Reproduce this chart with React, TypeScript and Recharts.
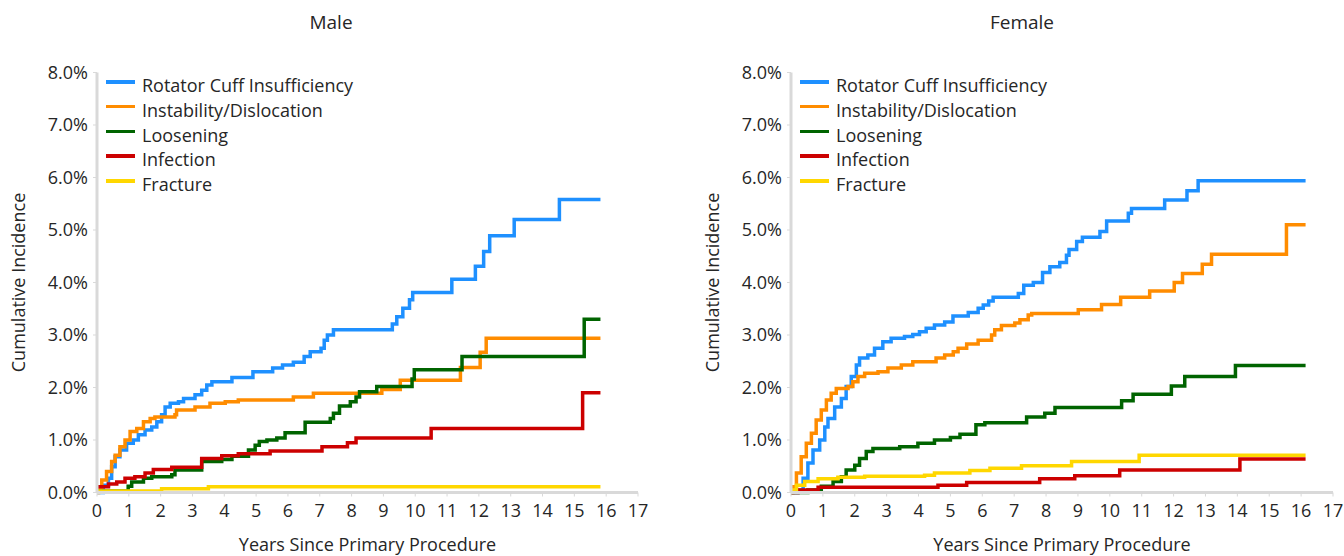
import React from 'react';
import { LineChart, Line, XAxis, YAxis, Legend } from 'recharts';

// ---------- Data (years since procedure, cumulative incidence %) ----------
const seriesNames = ['Rotator Cuff Insufficiency', 'Instability/Dislocation', 'Loosening', 'Infection', 'Fracture'];
const seriesColors = ['#1E90FF', '#FF8C00', '#006400', '#CC0000', '#FFD700'];

const xTicks = [0, 1, 2, 3, 4, 5, 6, 7, 8, 9, 10, 11, 12, 13, 14, 15, 16, 17];
const yTicks = [0, 1, 2, 3, 4, 5, 6, 7, 8];

const maleRotatorCuff: [number, number][] = [
  [0, 0], [0.2, 0.14], [0.36, 0.27], [0.46, 0.49], [0.57, 0.68], [0.72, 0.81], [0.93, 0.94],
  [1.14, 1.0], [1.3, 1.1], [1.51, 1.19], [1.72, 1.25], [1.88, 1.35], [2.03, 1.48], [2.14, 1.63],
  [2.3, 1.7], [2.56, 1.73], [2.72, 1.79], [3.08, 1.86], [3.29, 1.95], [3.45, 2.05], [3.61, 2.11],
  [4.24, 2.19], [4.9, 2.3], [5.52, 2.37], [5.83, 2.43], [6.17, 2.48], [6.51, 2.59], [6.7, 2.68],
  [7.04, 2.75], [7.14, 2.9], [7.24, 3.0], [7.43, 3.1], [9.28, 3.21], [9.42, 3.35], [9.61, 3.51],
  [9.82, 3.67], [9.92, 3.81], [11.15, 4.06], [11.89, 4.31], [12.15, 4.59], [12.34, 4.89],
  [13.11, 5.2], [14.53, 5.58], [15.82, 5.58],
];
const maleInstability: [number, number][] = [
  [0, 0], [0.05, 0.1], [0.15, 0.24], [0.3, 0.4], [0.46, 0.59], [0.57, 0.71], [0.72, 0.87],
  [0.88, 1.0], [1.04, 1.16], [1.25, 1.22], [1.46, 1.35], [1.67, 1.41], [1.82, 1.44], [2.45, 1.48],
  [2.5, 1.57], [3.08, 1.63], [3.55, 1.7], [4.03, 1.73], [4.44, 1.76], [6.17, 1.82], [6.8, 1.89],
  [8.95, 1.96], [9.53, 2.14], [11.42, 2.38], [12.04, 2.67], [12.23, 2.94], [15.82, 2.94],
];
const maleLoosening: [number, number][] = [
  [0, 0.03], [0.98, 0.12], [1.09, 0.2], [1.46, 0.27], [1.72, 0.3], [2.35, 0.34], [2.45, 0.43],
  [3.29, 0.59], [3.92, 0.63], [4.24, 0.69], [4.76, 0.81], [4.97, 0.9], [5.1, 0.97], [5.34, 1.0],
  [5.65, 1.04], [5.91, 1.14], [6.54, 1.34], [7.33, 1.41], [7.43, 1.51], [7.62, 1.65], [7.96, 1.73],
  [8.14, 1.82], [8.25, 1.92], [8.79, 2.02], [9.9, 2.16], [9.97, 2.34], [11.47, 2.59],
  [15.31, 3.3], [15.82, 3.3],
];
const maleInfection: [number, number][] = [
  [0, 0.11], [0.36, 0.16], [0.62, 0.2], [0.88, 0.27], [1.19, 0.3], [1.51, 0.37], [1.77, 0.44],
  [2.35, 0.48], [3.29, 0.65], [3.92, 0.7], [4.44, 0.74], [5.44, 0.79], [7.07, 0.87], [7.87, 0.95],
  [8.14, 1.04], [10.5, 1.22], [15.26, 1.9], [15.82, 1.9],
];
const maleFracture: [number, number][] = [
  [0, 0.03], [2.03, 0.07], [3.5, 0.11], [15.82, 0.11],
];

const femaleRotatorCuff: [number, number][] = [
  [0, 0], [0.22, 0.05], [0.38, 0.27], [0.53, 0.56], [0.69, 0.81], [0.9, 1.0], [1.06, 1.25],
  [1.16, 1.41], [1.37, 1.63], [1.58, 1.79], [1.73, 2.02], [1.89, 2.21], [2.05, 2.43], [2.15, 2.56],
  [2.41, 2.62], [2.62, 2.75], [2.88, 2.87], [3.14, 2.94], [3.56, 2.97], [3.82, 3.01], [4.03, 3.06],
  [4.24, 3.13], [4.5, 3.19], [4.82, 3.25], [5.08, 3.36], [5.56, 3.43], [5.87, 3.51], [6.03, 3.57],
  [6.2, 3.65], [6.34, 3.72], [7.13, 3.79], [7.3, 3.95], [7.6, 4.0], [7.89, 4.19], [8.12, 4.3],
  [8.43, 4.38], [8.64, 4.52], [8.72, 4.63], [8.96, 4.78], [9.14, 4.86], [9.69, 4.97], [9.9, 5.17],
  [10.58, 5.32], [10.68, 5.41], [11.72, 5.57], [12.42, 5.75], [12.77, 5.94], [16.14, 5.94],
];
const femaleInstability: [number, number][] = [
  [0, 0], [0.06, 0.11], [0.17, 0.37], [0.32, 0.68], [0.48, 0.94], [0.64, 1.13], [0.79, 1.38],
  [0.95, 1.57], [1.11, 1.76], [1.26, 1.89], [1.42, 1.98], [1.79, 2.02], [1.94, 2.11], [2.1, 2.21],
  [2.31, 2.27], [2.73, 2.3], [3.04, 2.37], [3.46, 2.43], [3.82, 2.49], [4.55, 2.56], [4.82, 2.62],
  [5.09, 2.68], [5.24, 2.75], [5.51, 2.83], [5.87, 2.9], [6.29, 3.0], [6.39, 3.1], [6.6, 3.18],
  [7.02, 3.23], [7.18, 3.29], [7.44, 3.38], [7.55, 3.41], [9.01, 3.48], [9.74, 3.58], [10.34, 3.72],
  [11.25, 3.84], [12.02, 4.0], [12.28, 4.17], [12.9, 4.35], [13.19, 4.54], [15.54, 5.1], [16.14, 5.1],
];
const femaleLoosening: [number, number][] = [
  [0, 0], [0.53, 0.05], [0.95, 0.12], [1.32, 0.21], [1.58, 0.3], [1.73, 0.43], [2.0, 0.52],
  [2.15, 0.65], [2.36, 0.78], [2.57, 0.84], [3.41, 0.87], [3.98, 0.94], [4.5, 1.0], [5.0, 1.05],
  [5.3, 1.11], [5.8, 1.29], [6.08, 1.33], [7.39, 1.44], [7.96, 1.51], [8.28, 1.62], [10.37, 1.75],
  [10.73, 1.87], [11.93, 2.03], [12.35, 2.21], [13.94, 2.42], [16.14, 2.42],
];
const femaleInfection: [number, number][] = [
  [0, 0], [0.22, 0.05], [0.85, 0.1], [4.61, 0.14], [5.51, 0.19], [7.8, 0.26], [8.9, 0.32],
  [10.31, 0.43], [14.08, 0.64], [16.14, 0.64],
];
const femaleFracture: [number, number][] = [
  [0, 0.05], [0.17, 0.14], [0.43, 0.21], [0.85, 0.26], [1.47, 0.29], [2.31, 0.31], [4.19, 0.33],
  [4.5, 0.37], [5.61, 0.42], [6.24, 0.46], [7.23, 0.51], [8.8, 0.59], [10.92, 0.71], [16.14, 0.71],
];

const maleSeries = [maleRotatorCuff, maleInstability, maleLoosening, maleInfection, maleFracture];
const femaleSeries = [femaleRotatorCuff, femaleInstability, femaleLoosening, femaleInfection, femaleFracture];

// ---------- Styling ----------
const FONT = '"Open Sans", "Noto Sans", sans-serif';
const TEXT = '#262626';
const AXIS = '#D9D9D9';

type PanelProps = {
  title: string;
  titleX: number;
  series: [number, number][][];
  yAxisWidth: number;
  rightMargin: number;
};

function LegendBox() {
  return (
    <div style={{ fontFamily: FONT, fontSize: 18, color: TEXT }}>
      {seriesNames.map((name, i) => (
        <div key={name} style={{ position: 'relative', height: 24.8, whiteSpace: 'nowrap' }}>
          <span
            style={{
              position: 'absolute', left: 0, top: 10.6, width: 29, height: 3.5, background: seriesColors[i],
            }}
          />
          <span style={{ position: 'absolute', left: 36, top: 3.5, lineHeight: '24.8px' }}>{name}</span>
        </div>
      ))}
    </div>
  );
}

function Panel({ title, titleX, series, yAxisWidth, rightMargin }: PanelProps) {
  const W = 672;
  const H = 556;
  return (
    <div style={{ position: 'relative', width: W, height: H }}>
      <div
        style={{
          position: 'absolute', left: titleX - 100, width: 200, top: 9, textAlign: 'center',
          fontFamily: FONT, fontSize: 19, color: TEXT, lineHeight: '26px',
        }}
      >
        {title}
      </div>
      <LineChart width={W} height={H} margin={{ top: 72.5, right: rightMargin, bottom: 0, left: 0 }}>
        <XAxis
          type="number"
          dataKey="x"
          domain={[0, 17]}
          ticks={xTicks}
          interval={0}
          allowDataOverflow
          height={63.5}
          stroke={AXIS}
          strokeWidth={3}
          tickSize={4}
          tickMargin={8}
          tickLine={{ stroke: AXIS, strokeWidth: 1 }}
          tick={{ fill: TEXT, fontSize: 18, fontFamily: FONT }}
          label={{
            value: 'Years Since Primary Procedure',
            position: 'insideBottom',
            offset: 5,
            fill: TEXT,
            fontSize: 18,
            fontFamily: FONT,
          }}
        />
        <YAxis
          type="number"
          domain={[0, 8]}
          ticks={yTicks}
          interval={0}
          width={yAxisWidth}
          stroke={AXIS}
          strokeWidth={3}
          tickSize={4}
          tickMargin={5}
          tickLine={{ stroke: AXIS, strokeWidth: 1 }}
          tick={{ fill: TEXT, fontSize: 18, fontFamily: FONT }}
          tickFormatter={(v: number) => v.toFixed(1) + '%'}
          label={{
            content: (props: any) => {
              const vb = props.viewBox || { x: 0, y: 72.5, width: yAxisWidth, height: 420 };
              const cx = vb.x + vb.width - 79;
              const cy = vb.y + vb.height / 2;
              return (
                <text
                  x={cx}
                  y={cy}
                  transform={`rotate(-90, ${cx}, ${cy})`}
                  textAnchor="middle"
                  dominantBaseline="central"
                  fill={TEXT}
                  fontSize={18}
                  fontFamily={FONT}
                >
                  Cumulative Incidence
                </text>
              );
            },
          }}
        />
        <Legend
          layout="horizontal"
          verticalAlign="middle"
          align="center"
          wrapperStyle={{ position: 'absolute', left: yAxisWidth + 9, top: 69.5, width: 'auto', height: 'auto' }}
          content={() => <LegendBox />}
        />
        {series.map((pts, i) => (
          <Line
            key={seriesNames[i]}
            name={seriesNames[i]}
            data={pts.map(([x, y]) => ({ x, y }))}
            dataKey="y"
            type="stepAfter"
            stroke={seriesColors[i]}
            strokeWidth={3.5}
            dot={false}
            activeDot={false}
            isAnimationActive={false}
          />
        ))}
      </LineChart>
    </div>
  );
}

export default function App() {
  return (
    <div style={{ position: 'absolute', left: 0, top: 0, width: 1344, height: 556, display: 'flex', background: '#fff' }}>
      <Panel title="Male" titleX={331} series={maleSeries} yAxisWidth={97} rightMargin={34} />
      <Panel title="Female" titleX={350} series={femaleSeries} yAxisWidth={119} rightMargin={11} />
    </div>
  );
}
